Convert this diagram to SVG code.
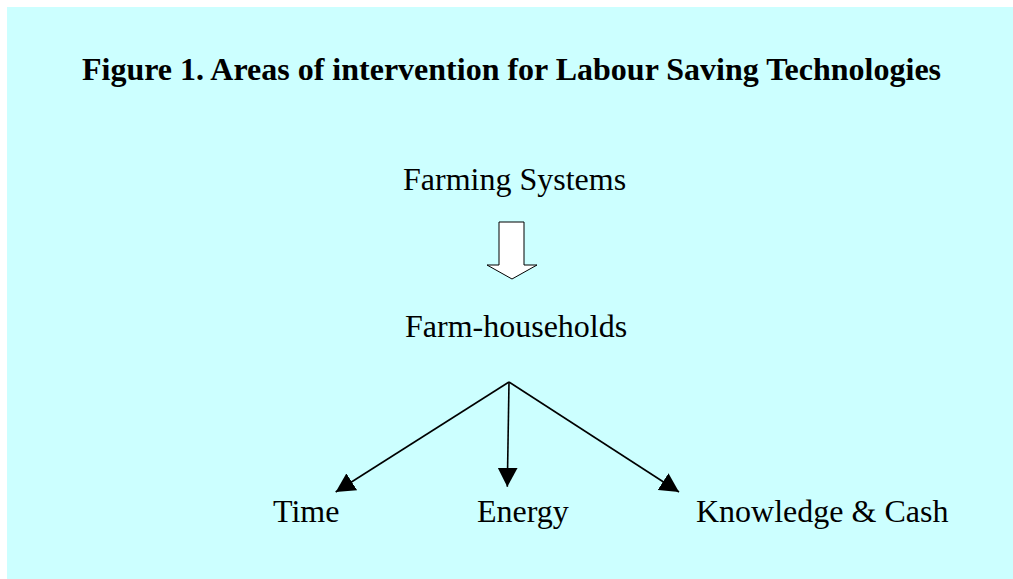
<svg xmlns="http://www.w3.org/2000/svg" width="1013" height="579" viewBox="0 0 1013 579">
<defs>
<style>
.t{font-family:"Liberation Serif","Times New Roman",serif;font-size:32px;fill:#000}
.b{font-weight:bold}
.c{stroke:#000;stroke-width:1.6;fill:none}
</style>
<marker id="ah" markerUnits="userSpaceOnUse" markerWidth="20" markerHeight="20" refX="19" refY="10" orient="auto" viewBox="0 0 20 20">
<path d="M0,0 L19,10 L0,20 z" fill="#000"/>
</marker>
</defs>
<rect x="0" y="0" width="1013" height="579" fill="#fff"/>
<rect x="7" y="7" width="1006" height="572" fill="#CCFFFF"/>
<text class="t b" x="82" y="80">Figure 1. Areas of intervention for Labour Saving Technologies</text>
<g id="farming-systems"><text class="t" x="403" y="190">Farming Systems</text></g>
<g id="farm-households"><text class="t" x="405" y="337">Farm-households</text></g>
<g id="time"><text class="t" x="273" y="522">Time</text></g>
<g id="energy"><text class="t" x="477" y="522">Energy</text></g>
<g id="knowledge-cash"><text class="t" x="696" y="522">Knowledge &amp; Cash</text></g>
<g id="connectors">
<polygon points="499,222 524,222 524,265 537,265 512,279 487,265 499,265" fill="#fff" stroke="#000" stroke-width="1"/>
<line class="c" x1="509" y1="382" x2="335.7" y2="492" marker-end="url(#ah)"/>
<line class="c" x1="509" y1="382" x2="507.3" y2="486.7" marker-end="url(#ah)"/>
<line class="c" x1="509" y1="382" x2="679" y2="492" marker-end="url(#ah)"/>
</g>
</svg>
